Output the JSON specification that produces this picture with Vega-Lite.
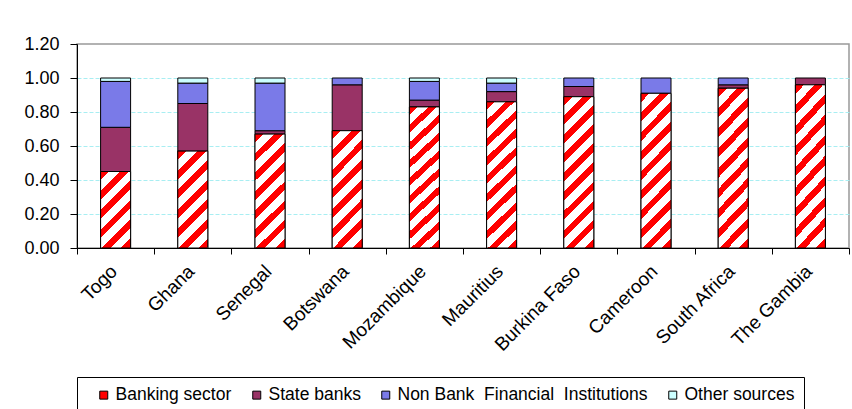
{
  "$schema": "https://vega.github.io/schema/vega-lite/v6.json",
  "autosize": {"type": "none"},
  "padding": {"left": 77, "top": 44, "right": 3, "bottom": 161},
  "width": 772,
  "height": 204,
  "background": "white",
  "config": {
    "font": "Liberation Sans",
    "view": {"stroke": "#999999", "strokeWidth": 1.5}
  },
  "data": {
    "values": [
      {"country": "Togo", "source": "Banking sector", "value": 0.45},
      {"country": "Togo", "source": "State banks", "value": 0.26},
      {"country": "Togo", "source": "Non Bank Financial Institutions", "value": 0.27},
      {"country": "Togo", "source": "Other sources", "value": 0.02},
      {"country": "Ghana", "source": "Banking sector", "value": 0.57},
      {"country": "Ghana", "source": "State banks", "value": 0.28},
      {"country": "Ghana", "source": "Non Bank Financial Institutions", "value": 0.12},
      {"country": "Ghana", "source": "Other sources", "value": 0.03},
      {"country": "Senegal", "source": "Banking sector", "value": 0.67},
      {"country": "Senegal", "source": "State banks", "value": 0.02},
      {"country": "Senegal", "source": "Non Bank Financial Institutions", "value": 0.28},
      {"country": "Senegal", "source": "Other sources", "value": 0.03},
      {"country": "Botswana", "source": "Banking sector", "value": 0.69},
      {"country": "Botswana", "source": "State banks", "value": 0.27},
      {"country": "Botswana", "source": "Non Bank Financial Institutions", "value": 0.04},
      {"country": "Mozambique", "source": "Banking sector", "value": 0.83},
      {"country": "Mozambique", "source": "State banks", "value": 0.04},
      {"country": "Mozambique", "source": "Non Bank Financial Institutions", "value": 0.11},
      {"country": "Mozambique", "source": "Other sources", "value": 0.02},
      {"country": "Mauritius", "source": "Banking sector", "value": 0.86},
      {"country": "Mauritius", "source": "State banks", "value": 0.06},
      {"country": "Mauritius", "source": "Non Bank Financial Institutions", "value": 0.05},
      {"country": "Mauritius", "source": "Other sources", "value": 0.03},
      {"country": "Burkina Faso", "source": "Banking sector", "value": 0.89},
      {"country": "Burkina Faso", "source": "State banks", "value": 0.06},
      {"country": "Burkina Faso", "source": "Non Bank Financial Institutions", "value": 0.05},
      {"country": "Cameroon", "source": "Banking sector", "value": 0.91},
      {"country": "Cameroon", "source": "Non Bank Financial Institutions", "value": 0.09},
      {"country": "South Africa", "source": "Banking sector", "value": 0.94},
      {"country": "South Africa", "source": "State banks", "value": 0.02},
      {"country": "South Africa", "source": "Non Bank Financial Institutions", "value": 0.04},
      {"country": "The Gambia", "source": "Banking sector", "value": 0.96},
      {"country": "The Gambia", "source": "State banks", "value": 0.04}
    ]
  },
  "encoding": {
    "x": {
      "field": "country",
      "type": "nominal",
      "sort": null,
      "scale": {"paddingInner": 0, "paddingOuter": 0},
      "axis": {
        "title": null,
        "tickBand": "extent",
        "domainColor": "black",
        "domainWidth": 1,
        "tickColor": "black",
        "tickSize": 6,
        "labelAngle": -45,
        "labelAlign": "right",
        "labelBaseline": "middle",
        "labelOffset": -2,
        "labelPadding": 14,
        "labelFontSize": 19,
        "labelColor": "black",
        "labelLimit": 300,
        "grid": false
      }
    },
    "y": {
      "field": "value",
      "type": "quantitative",
      "scale": {"domain": [0, 1.2], "nice": false},
      "axis": {
        "title": null,
        "values": [0, 0.2, 0.4, 0.6, 0.8, 1.0, 1.2],
        "format": ".2f",
        "domainColor": "black",
        "tickColor": "black",
        "tickSize": 7,
        "labelPadding": 11,
        "labelFontSize": 18,
        "labelColor": "black",
        "grid": true,
        "gridColor": "#a8eef2",
        "gridDash": [4, 2],
        "gridOpacity": {"expr": "datum.value > 1.1 || datum.value < 0.1 ? 0 : 1"}
      }
    }
  },
  "layer": [
    {
      "transform": [
        {"calculate": "indexof(['Banking sector', 'State banks', 'Non Bank Financial Institutions', 'Other sources'], datum.source)", "as": "stackOrder"}
      ],
      "mark": {"type": "bar", "width": 30, "stroke": "black", "strokeWidth": 1},
      "encoding": {
        "order": {"field": "stackOrder", "type": "quantitative", "sort": "ascending"},
        "color": {
          "field": "source",
          "type": "nominal",
          "scale": {
            "domain": ["Banking sector", "State banks", "Non Bank Financial Institutions", "Other sources"],
            "range": ["#ff0000", "#993366", "#7a7ae8", "#ccffff"]
          },
          "legend": {
            "title": "\u00a0",
            "titleOrient": "left",
            "titlePadding": 9,
            "titleFontSize": 17.5,
            "orient": "none",
            "legendX": 0,
            "legendY": 333,
            "direction": "horizontal",
            "padding": 9,
            "strokeColor": "black",
            "symbolType": "square",
            "symbolSize": 64,
            "symbolStrokeColor": "black",
            "symbolStrokeWidth": 1,
            "symbolOpacity": 1,
            "labelFontSize": 17.5,
            "labelColor": "black",
            "labelOffset": 3,
            "labelLimit": 400,
            "columnPadding": 16,
            "labelExpr": "datum.label === 'Non Bank Financial Institutions' ? 'Non Bank\u00a0 Financial\u00a0 Institutions' : datum.label"
          }
        }
      }
    },
    {
      "transform": [{"filter": "datum.source === 'Banking sector'"}],
      "mark": {"type": "bar", "width": 30, "stroke": "black", "strokeWidth": 1},
      "encoding": {
        "y": {"field": "value", "type": "quantitative", "stack": null},
        "fill": {
          "condition": [
            {
              "test": "datum.value > 0.8",
              "value": {
                "gradient": "linear", "x1": 0, "y1": 0, "x2": 0.228, "y2": 1.153,
                "stops": [
                  {"offset": 0, "color": "#f00"}, {"offset": 0.0474, "color": "#f00"}, {"offset": 0.0474, "color": "#fff"}, {"offset": 0.1053, "color": "#fff"},
                  {"offset": 0.1053, "color": "#f00"}, {"offset": 0.1526, "color": "#f00"}, {"offset": 0.1526, "color": "#fff"}, {"offset": 0.2105, "color": "#fff"},
                  {"offset": 0.2105, "color": "#f00"}, {"offset": 0.2579, "color": "#f00"}, {"offset": 0.2579, "color": "#fff"}, {"offset": 0.3158, "color": "#fff"},
                  {"offset": 0.3158, "color": "#f00"}, {"offset": 0.3632, "color": "#f00"}, {"offset": 0.3632, "color": "#fff"}, {"offset": 0.4211, "color": "#fff"},
                  {"offset": 0.4211, "color": "#f00"}, {"offset": 0.4684, "color": "#f00"}, {"offset": 0.4684, "color": "#fff"}, {"offset": 0.5263, "color": "#fff"},
                  {"offset": 0.5263, "color": "#f00"}, {"offset": 0.5737, "color": "#f00"}, {"offset": 0.5737, "color": "#fff"}, {"offset": 0.6316, "color": "#fff"},
                  {"offset": 0.6316, "color": "#f00"}, {"offset": 0.6789, "color": "#f00"}, {"offset": 0.6789, "color": "#fff"}, {"offset": 0.7368, "color": "#fff"},
                  {"offset": 0.7368, "color": "#f00"}, {"offset": 0.7842, "color": "#f00"}, {"offset": 0.7842, "color": "#fff"}, {"offset": 0.8421, "color": "#fff"},
                  {"offset": 0.8421, "color": "#f00"}, {"offset": 0.8895, "color": "#f00"}, {"offset": 0.8895, "color": "#fff"}, {"offset": 0.9474, "color": "#fff"},
                  {"offset": 0.9474, "color": "#f00"}, {"offset": 0.9947, "color": "#f00"}, {"offset": 0.9947, "color": "#fff"}, {"offset": 1, "color": "#fff"}
                ]
              }
            },
            {
              "test": "datum.value > 0.6",
              "value": {
                "gradient": "linear", "x1": 0, "y1": 0, "x2": 0.306, "y2": 1.18,
                "stops": [
                  {"offset": 0, "color": "#f00"}, {"offset": 0.06, "color": "#f00"}, {"offset": 0.06, "color": "#fff"}, {"offset": 0.1333, "color": "#fff"},
                  {"offset": 0.1333, "color": "#f00"}, {"offset": 0.1933, "color": "#f00"}, {"offset": 0.1933, "color": "#fff"}, {"offset": 0.2667, "color": "#fff"},
                  {"offset": 0.2667, "color": "#f00"}, {"offset": 0.3267, "color": "#f00"}, {"offset": 0.3267, "color": "#fff"}, {"offset": 0.4, "color": "#fff"},
                  {"offset": 0.4, "color": "#f00"}, {"offset": 0.46, "color": "#f00"}, {"offset": 0.46, "color": "#fff"}, {"offset": 0.5333, "color": "#fff"},
                  {"offset": 0.5333, "color": "#f00"}, {"offset": 0.5933, "color": "#f00"}, {"offset": 0.5933, "color": "#fff"}, {"offset": 0.6667, "color": "#fff"},
                  {"offset": 0.6667, "color": "#f00"}, {"offset": 0.7267, "color": "#f00"}, {"offset": 0.7267, "color": "#fff"}, {"offset": 0.8, "color": "#fff"},
                  {"offset": 0.8, "color": "#f00"}, {"offset": 0.86, "color": "#f00"}, {"offset": 0.86, "color": "#fff"}, {"offset": 0.9333, "color": "#fff"},
                  {"offset": 0.9333, "color": "#f00"}, {"offset": 0.9933, "color": "#f00"}, {"offset": 0.9933, "color": "#fff"}, {"offset": 1, "color": "#fff"}
                ]
              }
            },
            {
              "test": "datum.value > 0.5",
              "value": {
                "gradient": "linear", "x1": 0, "y1": 0, "x2": 0.37, "y2": 1.195,
                "stops": [
                  {"offset": 0, "color": "#f00"}, {"offset": 0.0692, "color": "#f00"}, {"offset": 0.0692, "color": "#fff"}, {"offset": 0.1538, "color": "#fff"},
                  {"offset": 0.1538, "color": "#f00"}, {"offset": 0.2231, "color": "#f00"}, {"offset": 0.2231, "color": "#fff"}, {"offset": 0.3077, "color": "#fff"},
                  {"offset": 0.3077, "color": "#f00"}, {"offset": 0.3769, "color": "#f00"}, {"offset": 0.3769, "color": "#fff"}, {"offset": 0.4615, "color": "#fff"},
                  {"offset": 0.4615, "color": "#f00"}, {"offset": 0.5308, "color": "#f00"}, {"offset": 0.5308, "color": "#fff"}, {"offset": 0.6154, "color": "#fff"},
                  {"offset": 0.6154, "color": "#f00"}, {"offset": 0.6846, "color": "#f00"}, {"offset": 0.6846, "color": "#fff"}, {"offset": 0.7692, "color": "#fff"},
                  {"offset": 0.7692, "color": "#f00"}, {"offset": 0.8385, "color": "#f00"}, {"offset": 0.8385, "color": "#fff"}, {"offset": 0.9231, "color": "#fff"},
                  {"offset": 0.9231, "color": "#f00"}, {"offset": 0.9923, "color": "#f00"}, {"offset": 0.9923, "color": "#fff"}, {"offset": 1, "color": "#fff"}
                ]
              }
            }
          ],
          "value": {
            "gradient": "linear", "x1": 0, "y1": 0, "x2": 0.473, "y2": 1.207,
            "stops": [
              {"offset": 0, "color": "#f00"}, {"offset": 0.0818, "color": "#f00"}, {"offset": 0.0818, "color": "#fff"}, {"offset": 0.1818, "color": "#fff"},
              {"offset": 0.1818, "color": "#f00"}, {"offset": 0.2636, "color": "#f00"}, {"offset": 0.2636, "color": "#fff"}, {"offset": 0.3636, "color": "#fff"},
              {"offset": 0.3636, "color": "#f00"}, {"offset": 0.4455, "color": "#f00"}, {"offset": 0.4455, "color": "#fff"}, {"offset": 0.5455, "color": "#fff"},
              {"offset": 0.5455, "color": "#f00"}, {"offset": 0.6273, "color": "#f00"}, {"offset": 0.6273, "color": "#fff"}, {"offset": 0.7273, "color": "#fff"},
              {"offset": 0.7273, "color": "#f00"}, {"offset": 0.8091, "color": "#f00"}, {"offset": 0.8091, "color": "#fff"}, {"offset": 0.9091, "color": "#fff"},
              {"offset": 0.9091, "color": "#f00"}, {"offset": 0.9909, "color": "#f00"}, {"offset": 0.9909, "color": "#fff"}, {"offset": 1, "color": "#fff"}
            ]
          }
        }
      }
    }
  ]
}
